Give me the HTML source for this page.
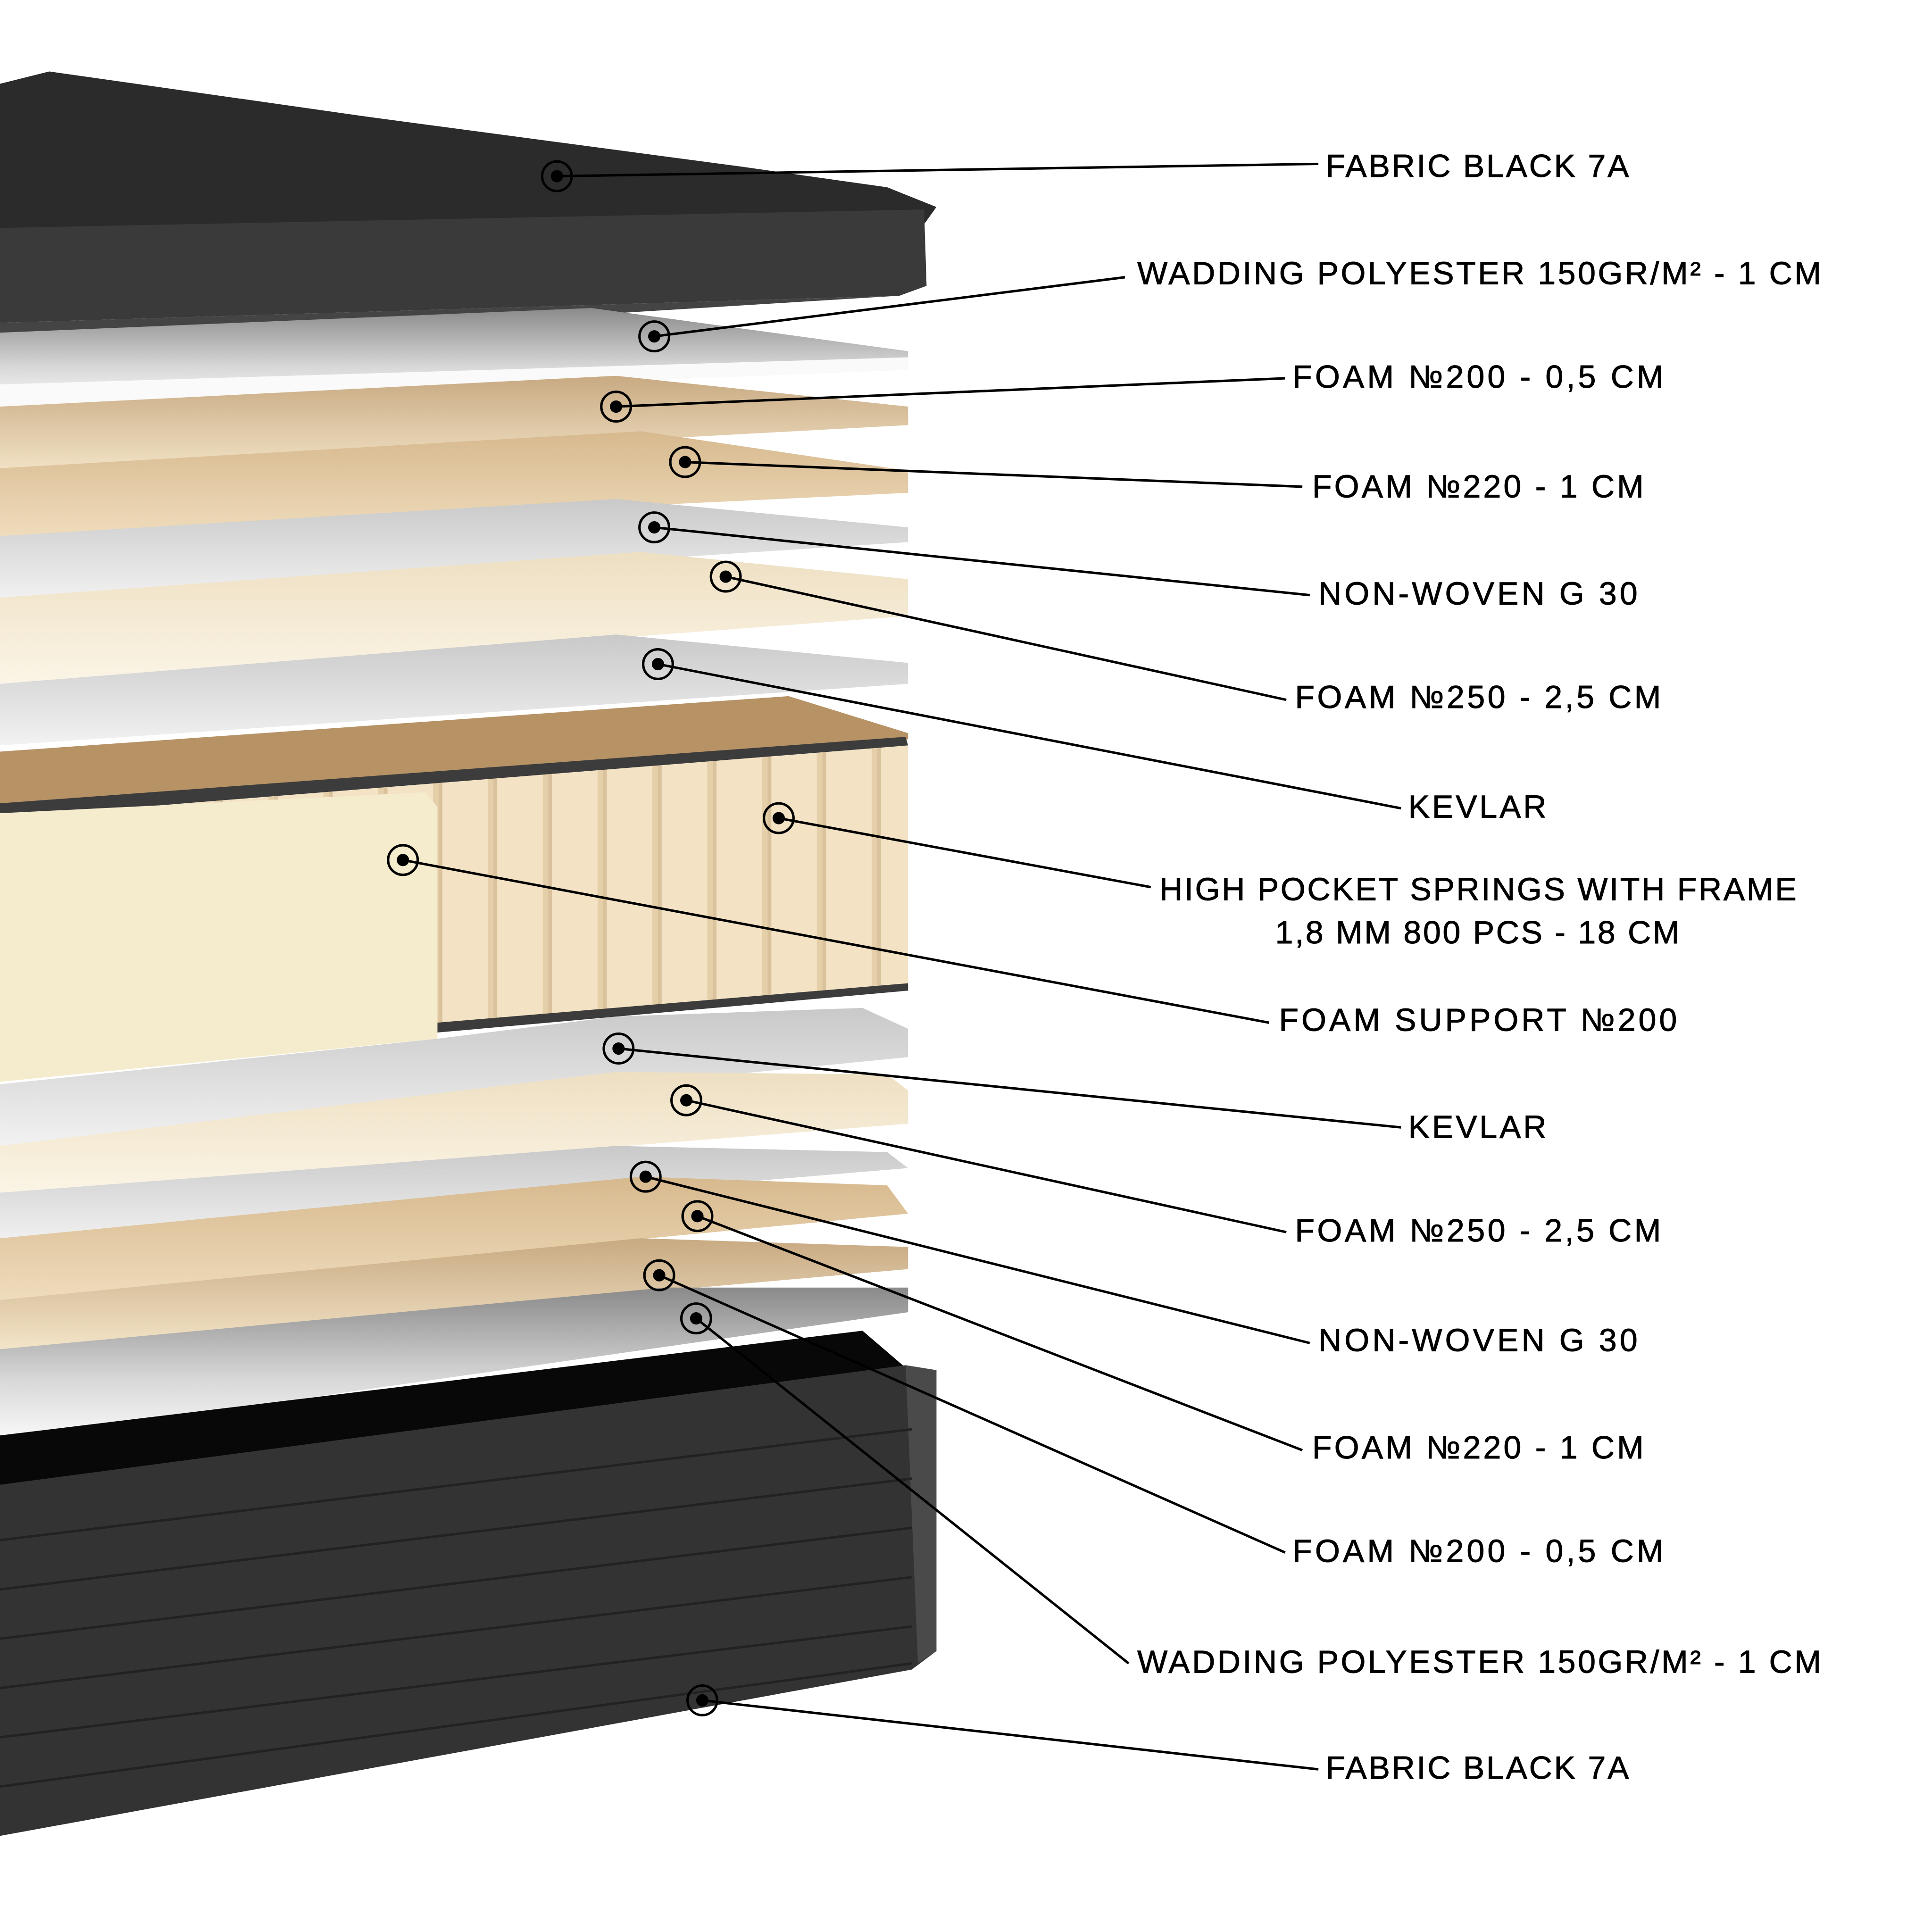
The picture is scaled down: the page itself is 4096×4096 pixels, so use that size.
<!DOCTYPE html>
<html><head><meta charset="utf-8"><style>html,body{margin:0;padding:0;background:#fff}svg{display:block}</style></head>
<body>
<svg width="4096" height="4096" viewBox="0 0 1568 1568" xmlns="http://www.w3.org/2000/svg">
<defs>
<linearGradient id="gw" x1="0" y1="0" x2="0" y2="1"><stop offset="0" stop-color="#8a8a8a"/><stop offset="0.6" stop-color="#d8d8d8"/><stop offset="1" stop-color="#fafafa"/></linearGradient>
<linearGradient id="gt" x1="0" y1="0" x2="0" y2="1"><stop offset="0" stop-color="#c8aa82"/><stop offset="1" stop-color="#f3e4c8"/></linearGradient>
<linearGradient id="gt2" x1="0" y1="0" x2="0" y2="1"><stop offset="0" stop-color="#d7b98e"/><stop offset="1" stop-color="#efdcbc"/></linearGradient>
<linearGradient id="gc" x1="0" y1="0" x2="0" y2="1"><stop offset="0" stop-color="#eedfc2"/><stop offset="1" stop-color="#fbf5e6"/></linearGradient>
<linearGradient id="gg" x1="0" y1="0" x2="0" y2="1"><stop offset="0" stop-color="#c9c9c9"/><stop offset="1" stop-color="#f2f2f2"/></linearGradient>
<pattern id="spr" x="0" y="0" width="44.5" height="10" patternUnits="userSpaceOnUse"><rect width="44.5" height="10" fill="#f3e2c4"/><rect x="0" width="3" height="10" fill="#d9c29c"/><rect x="40" width="4.5" height="10" fill="#e5cfa9"/></pattern>
</defs>
<rect width="1568" height="1568" fill="#fff"/>
<polygon points="0,68 40,58 300,95 600,135 720,152 760,168 750,182 0,200" fill="#2b2b2b"/>
<polygon points="0,185 750,170 752,232 730,240 0,262" fill="#3a3a3a"/>
<polygon points="0,262 730,240 0,285" fill="#444"/>
<polygon points="0,270 480,250 737,285 737,300 0,330" fill="url(#gw)"/>
<polygon points="0,312 737,290 737,300 0,330" fill="#fafafa"/>
<polygon points="0,330 500,305 737,330 737,345 0,385" fill="url(#gt)"/>
<polygon points="0,380 520,350 737,382 737,400 0,435" fill="url(#gt2)"/>
<polygon points="0,435 500,405 737,428 737,440 0,488" fill="url(#gg)"/>
<polygon points="0,485 520,448 737,470 737,500 0,555" fill="url(#gc)"/>
<polygon points="0,555 500,515 737,538 737,555 0,605" fill="url(#gg)"/>
<polygon points="0,610 640,565 737,595 737,600 0,660" fill="#b79265"/>
<polygon points="0,652 735,598 737,605 0,664" fill="#3c3c3c"/>
<polygon points="0,664 737,605 737,800 430,830 0,850" fill="url(#spr)"/>
<polygon points="355,830 737,798 737,804 355,838" fill="#3c3c3c"/>
<polygon points="0,660 345,643 355,655 355,843 0,878" fill="#f5ecce"/>
<polygon points="0,880 355,843 500,825 700,818 737,835 737,858 0,930" fill="url(#gg)"/>
<polygon points="0,930 500,870 720,872 737,885 737,912 0,970" fill="url(#gc)"/>
<polygon points="0,968 500,930 720,935 737,948 0,1010" fill="url(#gg)"/>
<polygon points="0,1005 520,955 720,962 737,985 0,1055" fill="url(#gt2)"/>
<polygon points="0,1055 520,1005 737,1012 737,1030 0,1095" fill="url(#gt)"/>
<polygon points="0,1095 540,1045 737,1045 737,1065 0,1170" fill="url(#gw)"/>
<polygon points="0,1165 700,1080 735,1110 0,1215" fill="#080808"/>
<polygon points="0,1205 735,1108 760,1112 760,1340 740,1355 0,1490" fill="#333"/>
<polygon points="735,1108 760,1112 760,1340 745,1350" fill="#4a4a4a"/>
<g stroke="#222" stroke-width="2">
<line x1="0" y1="1250" x2="740" y2="1160"/><line x1="0" y1="1290" x2="740" y2="1200"/><line x1="0" y1="1330" x2="740" y2="1240"/><line x1="0" y1="1370" x2="740" y2="1280"/><line x1="0" y1="1410" x2="740" y2="1320"/><line x1="0" y1="1450" x2="740" y2="1350"/>
</g>
<g stroke="#000" stroke-width="2" fill="none">
<line x1="452" y1="143" x2="1070" y2="133"/>
<line x1="531" y1="273" x2="913" y2="225"/>
<line x1="500" y1="330" x2="1043" y2="307"/>
<line x1="556" y1="375" x2="1057" y2="395"/>
<line x1="531" y1="428" x2="1063" y2="483"/>
<line x1="589" y1="468" x2="1044" y2="568"/>
<line x1="534" y1="539" x2="1137" y2="656"/>
<line x1="632" y1="664" x2="934" y2="720"/>
<line x1="327" y1="698" x2="1030" y2="830"/>
<line x1="502" y1="851" x2="1137" y2="915"/>
<line x1="557" y1="893" x2="1044" y2="1000"/>
<line x1="524" y1="955" x2="1063" y2="1090"/>
<line x1="566" y1="987" x2="1057" y2="1177"/>
<line x1="535" y1="1035" x2="1043" y2="1260"/>
<line x1="565" y1="1070" x2="916" y2="1350"/>
<line x1="570" y1="1380" x2="1070" y2="1436"/>
</g>
<g fill="none" stroke="#000" stroke-width="2">
<circle cx="452" cy="143" r="12"/><circle cx="531" cy="273" r="12"/><circle cx="500" cy="330" r="12"/><circle cx="556" cy="375" r="12"/><circle cx="531" cy="428" r="12"/><circle cx="589" cy="468" r="12"/><circle cx="534" cy="539" r="12"/><circle cx="632" cy="664" r="12"/><circle cx="327" cy="698" r="12"/><circle cx="502" cy="851" r="12"/><circle cx="557" cy="893" r="12"/><circle cx="524" cy="955" r="12"/><circle cx="566" cy="987" r="12"/><circle cx="535" cy="1035" r="12"/><circle cx="565" cy="1070" r="12"/><circle cx="570" cy="1380" r="12"/>
</g>
<g fill="#000">
<circle cx="452" cy="143" r="5"/><circle cx="531" cy="273" r="5"/><circle cx="500" cy="330" r="5"/><circle cx="556" cy="375" r="5"/><circle cx="531" cy="428" r="5"/><circle cx="589" cy="468" r="5"/><circle cx="534" cy="539" r="5"/><circle cx="632" cy="664" r="5"/><circle cx="327" cy="698" r="5"/><circle cx="502" cy="851" r="5"/><circle cx="557" cy="893" r="5"/><circle cx="524" cy="955" r="5"/><circle cx="566" cy="987" r="5"/><circle cx="535" cy="1035" r="5"/><circle cx="565" cy="1070" r="5"/><circle cx="570" cy="1380" r="5"/>
</g>
<g font-family="Liberation Sans, sans-serif" font-size="26" fill="#000" stroke="#000" stroke-width="0.4" dominant-baseline="central">
<text x="1076" y="135" textLength="246">FABRIC BLACK 7A</text>
<text x="923" y="222" textLength="555">WADDING POLYESTER 150GR/M² - 1 CM</text>
<text x="1049" y="306" textLength="301">FOAM №200 - 0,5 CM</text>
<text x="1065" y="395" textLength="269">FOAM №220 - 1 CM</text>
<text x="1070" y="482" textLength="259">NON-WOVEN G 30</text>
<text x="1051" y="566" textLength="297">FOAM №250 - 2,5 CM</text>
<text x="1143" y="655" textLength="112">KEVLAR</text>
<text x="941" y="722" textLength="517">HIGH POCKET SPRINGS WITH FRAME</text>
<text x="1035" y="757" textLength="328">1,8 MM 800 PCS - 18 CM</text>
<text x="1038" y="828" textLength="323">FOAM SUPPORT №200</text>
<text x="1143" y="915" textLength="112">KEVLAR</text>
<text x="1051" y="999" textLength="297">FOAM №250 - 2,5 CM</text>
<text x="1070" y="1088" textLength="259">NON-WOVEN G 30</text>
<text x="1065" y="1175" textLength="269">FOAM №220 - 1 CM</text>
<text x="1049" y="1259" textLength="301">FOAM №200 - 0,5 CM</text>
<text x="923" y="1349" textLength="555">WADDING POLYESTER 150GR/M² - 1 CM</text>
<text x="1076" y="1435" textLength="246">FABRIC BLACK 7A</text>
</g>
</svg>
</body></html>
